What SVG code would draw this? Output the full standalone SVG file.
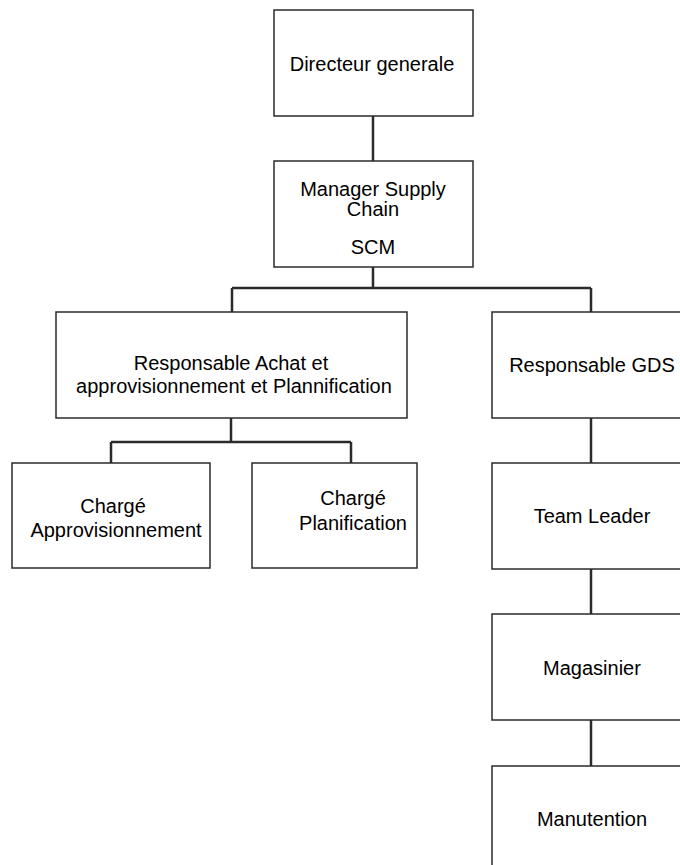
<svg xmlns="http://www.w3.org/2000/svg" width="680" height="865" viewBox="0 0 680 865">
  <style>
    .box { fill: #ffffff; stroke: #2b2b2b; stroke-width: 1.5; }
    .link { fill: none; stroke: #2b2b2b; stroke-width: 2.5; }
    .label { font-family: "Liberation Sans", Arial, sans-serif; font-size: 20px; fill: #000; text-anchor: middle; }
  </style>
  <rect width="680" height="865" fill="#ffffff"/>

  <!-- connectors -->
  <g id="connectors">
    <path class="link" d="M373 116 V161"/>
    <path class="link" d="M373 267 V288 M232 288 H591 M232 288 V312 M591 288 V312"/>
    <path class="link" d="M231 418 V442 M111 442 H351 M111 442 V463 M351 442 V463"/>
    <path class="link" d="M591 418 V463"/>
    <path class="link" d="M591 569 V614"/>
    <path class="link" d="M591 720 V766"/>
  </g>

  <g id="directeur">
    <rect class="box" x="274" y="10" width="199" height="106"/>
    <text class="label" x="372" y="71">Directeur generale</text>
  </g>

  <g id="manager-scm">
    <rect class="box" x="274" y="161" width="199" height="106"/>
    <text class="label" x="373" y="196">Manager Supply</text>
    <text class="label" x="373" y="216">Chain</text>
    <text class="label" x="373" y="254">SCM</text>
  </g>

  <g id="resp-achat">
    <rect class="box" x="56" y="312" width="351" height="106"/>
    <text class="label" x="231" y="370">Responsable Achat et</text>
    <text class="label" x="234" y="393">approvisionnement et Plannification</text>
  </g>

  <g id="resp-gds">
    <rect class="box" x="492" y="312" width="200" height="106"/>
    <text class="label" x="592" y="372">Responsable GDS</text>
  </g>

  <g id="charge-appro">
    <rect class="box" x="12" y="463" width="198" height="105"/>
    <text class="label" x="113" y="513">Chargé</text>
    <text class="label" x="116" y="537">Approvisionnement</text>
  </g>

  <g id="charge-planif">
    <rect class="box" x="252" y="463" width="165" height="105"/>
    <text class="label" x="353" y="505">Chargé</text>
    <text class="label" x="353" y="530">Planification</text>
  </g>

  <g id="team-leader">
    <rect class="box" x="492" y="463" width="200" height="106"/>
    <text class="label" x="592" y="523">Team Leader</text>
  </g>

  <g id="magasinier">
    <rect class="box" x="492" y="614" width="200" height="106"/>
    <text class="label" x="592" y="675">Magasinier</text>
  </g>

  <g id="manutention">
    <rect class="box" x="492" y="766" width="200" height="110"/>
    <text class="label" x="592" y="826">Manutention</text>
  </g>
</svg>
